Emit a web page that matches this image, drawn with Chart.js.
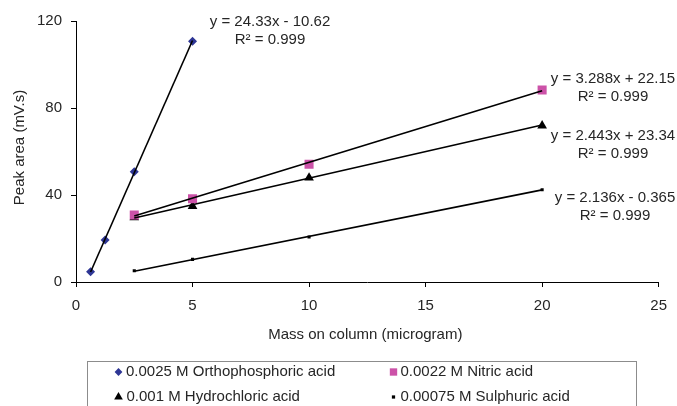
<!DOCTYPE html>
<html>
<head>
<meta charset="utf-8">
<script src="https://cdn.jsdelivr.net/npm/chart.js@4/dist/chart.umd.min.js"></script>
<style>
html,body{margin:0;padding:0;background:#fff;}
#wrap{width:677px;height:406px;position:relative;}
</style>
</head>
<body>
<div id="wrap"><canvas id="c" width="677" height="406"></canvas></div>
<script>
// ---- data ----
const seriesNames = ['0.0025 M Orthophosphoric acid', '0.0022 M Nitric acid', '0.001 M Hydrochloric acid', '0.00075 M Sulphuric acid'];
const orthoX = [0.625, 1.25, 2.5, 5];
const orthoY = [4.7, 19.3, 50.7, 110.7];
const nitricX = [2.5, 5, 10, 20];
const nitricY = [30.8, 38.3, 54.1, 88.3];
const hclX = [2.5, 5, 10, 20];
const hclY = [29.7, 34.9, 47.9, 71.9];
const sulphX = [2.5, 5, 10, 20];
const sulphY = [5.2, 10.4, 20.7, 42.4];
// trendline coefficients as printed on the chart
const slopes = [24.33, 3.288, 2.443, 2.136];
const intercepts = [-10.62, 22.15, 23.34, -0.365];
const eqLabels = ['y = 24.33x - 10.62', 'y = 3.288x + 22.15', 'y = 2.443x + 23.34', 'y = 2.136x - 0.365'];
const r2Labels = ['R² = 0.999', 'R² = 0.999', 'R² = 0.999', 'R² = 0.999'];
const xTicks = [0, 5, 10, 15, 20, 25];
const yTicks = [0, 40, 80, 120];
const xTitle = 'Mass on column (microgram)';
const yTitle = 'Peak area (mV.s)';

const FONT = '"Liberation Sans", Arial, sans-serif';
const TXT = '#262626';
const colors = ['#2E3695', '#CC52A8', '#000000', '#000000'];
const styles = ['rectRot', 'rect', 'triangle', 'rect'];
const radii = [4.5, 6.4, 5.6, 2.2];

const xs = [orthoX, nitricX, hclX, sulphX];
const ys = [orthoY, nitricY, hclY, sulphY];

const datasets = [];
xs.forEach((xa, i) => {
  datasets.push({
    label: seriesNames[i],
    data: xa.map((x, k) => ({x: x, y: ys[i][k]})),
    showLine: false,
    pointStyle: styles[i],
    pointRadius: radii[i],
    pointHoverRadius: radii[i],
    pointBackgroundColor: colors[i],
    pointBorderColor: colors[i],
    pointBorderWidth: 0,
    order: 2
  });
});
xs.forEach((xa, i) => {
  const x0 = xa[0], x1 = xa[xa.length - 1];
  datasets.push({
    label: 'trend' + i,
    data: [{x: x0, y: slopes[i] * x0 + intercepts[i]}, {x: x1, y: slopes[i] * x1 + intercepts[i]}],
    showLine: true,
    borderColor: '#000',
    borderWidth: 1.6,
    pointRadius: 0,
    fill: false,
    order: 1
  });
});

const labelPos = [
  {x: 270, y1: 22, y2: 40},
  {x: 613, y1: 79, y2: 97},
  {x: 613, y1: 136, y2: 154},
  {x: 615, y1: 198, y2: 216}
];

function drawMarker(ctx, style, x, y, r, color) {
  ctx.save();
  ctx.fillStyle = color;
  ctx.beginPath();
  if (style === 'rectRot') {
    ctx.moveTo(x - r, y); ctx.lineTo(x, y - r); ctx.lineTo(x + r, y); ctx.lineTo(x, y + r);
  } else if (style === 'rect') {
    const s = r * Math.SQRT1_2;
    ctx.rect(x - s, y - s, 2 * s, 2 * s);
  } else if (style === 'triangle') {
    const w = r * Math.sqrt(3) / 2;
    ctx.moveTo(x, y - r); ctx.lineTo(x + w, y + r / 2); ctx.lineTo(x - w, y + r / 2);
  }
  ctx.closePath();
  ctx.fill();
  ctx.restore();
}

const decor = {
  id: 'decor',
  afterDraw(chart) {
    const ctx = chart.ctx;
    const ca = chart.chartArea;
    ctx.save();
    ctx.fillStyle = TXT;
    ctx.font = '15px ' + FONT;
    ctx.textAlign = 'center';
    ctx.textBaseline = 'middle';
    // equation labels
    labelPos.forEach((p, i) => {
      ctx.fillText(eqLabels[i], p.x, p.y1);
      ctx.fillText(r2Labels[i], p.x, p.y2);
    });
    // axis titles
    ctx.fillText(xTitle, (ca.left + ca.right) / 2 - 2, 335);
    ctx.save();
    ctx.translate(20, (ca.top + ca.bottom) / 2 - 4);
    ctx.rotate(-Math.PI / 2);
    ctx.fillText(yTitle, 0, 0);
    ctx.restore();
    // legend box
    ctx.strokeStyle = '#8c8c8c';
    ctx.lineWidth = 1;
    ctx.strokeRect(87.5, 361.5, 549, 60);
    const items = [
      {i: 0, mx: 118.5, tx: 126, y: 372, r: 3.9},
      {i: 1, mx: 393.5, tx: 400.5, y: 372, r: 5.2},
      {i: 2, mx: 118.5, tx: 126.5, y: 397, r: 5},
      {i: 3, mx: 393.5, tx: 400.5, y: 397, r: 2.3}
    ];
    ctx.textAlign = 'left';
    items.forEach(it => {
      drawMarker(ctx, styles[it.i], it.mx, it.y, it.r, colors[it.i]);
      ctx.fillStyle = TXT;
      ctx.fillText(seriesNames[it.i], it.tx, it.y);
    });
    ctx.restore();
  }
};

new Chart(document.getElementById('c'), {
  type: 'scatter',
  data: {datasets: datasets},
  options: {
    responsive: false,
    animation: false,
    events: [],
    layout: {padding: {left: 0, top: 21, right: 15, bottom: 0}},
    plugins: {legend: {display: false}, tooltip: {enabled: false}},
    scales: {
      x: {
        type: 'linear', min: 0, max: 25,
        afterBuildTicks: s => { s.ticks = xTicks.map(v => ({value: v})); },
        ticks: {color: TXT, font: {family: FONT, size: 15}, padding: 10},
        grid: {display: true, drawOnChartArea: false, drawTicks: true, tickLength: 5, color: '#000'},
        border: {display: true, color: '#000', width: 1},
        afterFit: s => { s.height = 124; }
      },
      y: {
        type: 'linear', min: 0, max: 120,
        afterBuildTicks: s => { s.ticks = yTicks.map(v => ({value: v})); },
        ticks: {color: TXT, font: {family: FONT, size: 15}, padding: 9},
        grid: {display: true, drawOnChartArea: false, drawTicks: true, tickLength: 5, color: '#000'},
        border: {display: true, color: '#000', width: 1},
        afterFit: s => { s.width = 76; }
      }
    }
  },
  plugins: [decor]
});
</script>
</body>
</html>
